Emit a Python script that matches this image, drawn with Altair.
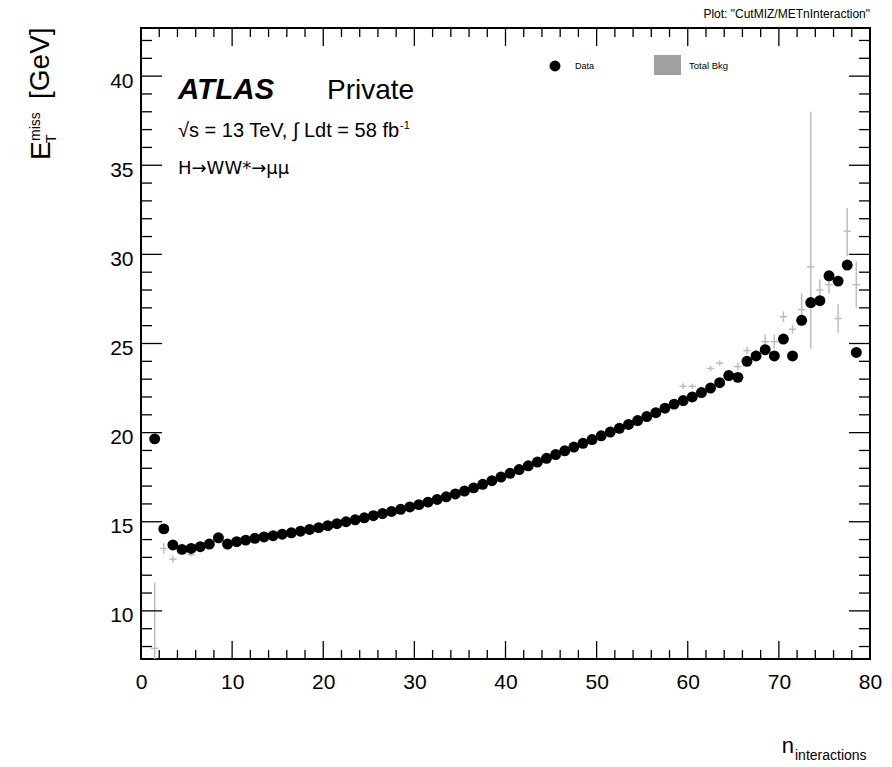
import altair as alt
import pandas as pd

# ---------------- data ----------------
n_interactions = [1.5, 2.5, 3.5, 4.5, 5.5, 6.5, 7.5, 8.5, 9.5, 10.5,
                  11.5, 12.5, 13.5, 14.5, 15.5, 16.5, 17.5, 18.5, 19.5, 20.5,
                  21.5, 22.5, 23.5, 24.5, 25.5, 26.5, 27.5, 28.5, 29.5, 30.5,
                  31.5, 32.5, 33.5, 34.5, 35.5, 36.5, 37.5, 38.5, 39.5, 40.5,
                  41.5, 42.5, 43.5, 44.5, 45.5, 46.5, 47.5, 48.5, 49.5, 50.5,
                  51.5, 52.5, 53.5, 54.5, 55.5, 56.5, 57.5, 58.5, 59.5, 60.5,
                  61.5, 62.5, 63.5, 64.5, 65.5, 66.5, 67.5, 68.5, 69.5, 70.5,
                  71.5, 72.5, 73.5, 74.5, 75.5, 76.5, 77.5, 78.5]

met_data = [19.65, 14.6, 13.7, 13.45, 13.5, 13.6, 13.75, 14.1, 13.75, 13.88,
            13.97, 14.07, 14.15, 14.22, 14.3, 14.38, 14.47, 14.57, 14.67, 14.78,
            14.89, 15.0, 15.11, 15.22, 15.34, 15.46, 15.58, 15.7, 15.83, 15.96,
            16.1, 16.25, 16.4, 16.56, 16.72, 16.9, 17.1, 17.3, 17.51, 17.72,
            17.93, 18.14, 18.35, 18.56, 18.77, 18.98, 19.19, 19.4, 19.61, 19.82,
            20.03, 20.24, 20.46, 20.68, 20.9, 21.12, 21.37, 21.6, 21.8, 22.0,
            22.25, 22.5, 22.8, 23.2, 23.1, 24.0, 24.3, 24.65, 24.3, 25.25,
            24.3, 26.3, 27.3, 27.4, 28.8, 28.5, 29.4, 24.5]

met_bkg = [7.9, 13.5, 12.9, 13.35, 13.15, 13.5, 13.7, 14.0, 13.85, 13.9,
           13.98, 14.08, 14.16, 14.23, 14.31, 14.39, 14.48, 14.58, 14.68, 14.79,
           14.9, 15.01, 15.12, 15.23, 15.35, 15.47, 15.59, 15.71, 15.84, 15.97,
           16.11, 16.26, 16.41, 16.57, 16.73, 16.91, 17.11, 17.31, 17.52, 17.73,
           17.94, 18.15, 18.36, 18.57, 18.78, 18.99, 19.2, 19.41, 19.62, 19.83,
           20.04, 20.25, 20.47, 20.69, 20.92, 21.15, 21.4, 21.65, 22.6, 22.6,
           22.3, 23.6, 23.9, 23.3, 23.7, 24.6, 24.4, 25.1, 25.1, 26.5,
           25.8, 26.9, 29.3, 28.0, 28.3, 26.4, 31.3, 28.3]

bkg_err_up = [3.7, 0.3, 0.2, 0.1, 0.1, 0.1, 0.1, 0.1, 0.1, 0.1,
              0.1, 0.1, 0.1, 0.1, 0.1, 0.1, 0.1, 0.1, 0.1, 0.1,
              0.1, 0.1, 0.1, 0.1, 0.1, 0.1, 0.1, 0.1, 0.1, 0.1,
              0.1, 0.1, 0.1, 0.1, 0.1, 0.1, 0.1, 0.1, 0.1, 0.1,
              0.1, 0.1, 0.1, 0.1, 0.1, 0.1, 0.1, 0.1, 0.1, 0.1,
              0.1, 0.1, 0.1, 0.1, 0.1, 0.1, 0.1, 0.1, 0.15, 0.15,
              0.15, 0.15, 0.15, 0.15, 0.2, 0.2, 0.25, 0.4, 0.4, 0.3,
              0.25, 0.9, 8.7, 0.6, 0.5, 0.8, 1.3, 1.3]

bkg_err_down = [4.2, 0.3, 0.2, 0.1, 0.1, 0.1, 0.1, 0.1, 0.1, 0.1,
                0.1, 0.1, 0.1, 0.1, 0.1, 0.1, 0.1, 0.1, 0.1, 0.1,
                0.1, 0.1, 0.1, 0.1, 0.1, 0.1, 0.1, 0.1, 0.1, 0.1,
                0.1, 0.1, 0.1, 0.1, 0.1, 0.1, 0.1, 0.1, 0.1, 0.1,
                0.1, 0.1, 0.1, 0.1, 0.1, 0.1, 0.1, 0.1, 0.1, 0.1,
                0.1, 0.1, 0.1, 0.1, 0.1, 0.1, 0.1, 0.1, 0.15, 0.15,
                0.15, 0.15, 0.15, 0.15, 0.2, 0.2, 0.25, 0.4, 0.4, 0.3,
                0.25, 0.4, 4.6, 0.6, 0.5, 0.8, 1.4, 1.3]

x_major_ticks = [0, 10, 20, 30, 40, 50, 60, 70, 80]
x_minor_ticks = [2, 4, 6, 8, 12, 14, 16, 18, 22, 24, 26, 28, 32, 34, 36, 38,
                 42, 44, 46, 48, 52, 54, 56, 58, 62, 64, 66, 68, 72, 74, 76, 78]
y_major_ticks = [10, 15, 20, 25, 30, 35, 40]
y_minor_ticks = [8, 9, 11, 12, 13, 14, 16, 17, 18, 19, 21, 22, 23, 24,
                 26, 27, 28, 29, 31, 32, 33, 34, 36, 37, 38, 39, 41, 42]

# ---------------- styling ----------------
W, H = 729, 631
FONT = "Liberation Sans"
GREY = "#bdbdbd"

xs = alt.Scale(domain=[0, 80], nice=False, zero=False)
ys = alt.Scale(domain=[7.3, 42.7], nice=False, zero=False)
xaxis = alt.Axis(values=x_major_ticks, title=None, ticks=False, domain=False, grid=False,
                 labelFont=FONT, labelFontSize=21, labelPadding=12, labelColor="black",
                 labelFlush=False, labelOverlap=False, labelBound=False, format="d")
yaxis = alt.Axis(values=y_major_ticks, title=None, ticks=False, domain=False, grid=False,
                 labelFont=FONT, labelFontSize=21, labelPadding=8, labelColor="black",
                 labelOffset=5, labelFlush=False, labelOverlap=False, labelBound=False,
                 format="d")


def X(field):
    return alt.X(field, type="quantitative", scale=xs, axis=xaxis)


def Y(field):
    return alt.Y(field, type="quantitative", scale=ys, axis=yaxis)


df = pd.DataFrame({"n": n_interactions, "met": met_data, "bkg": met_bkg,
                   "up": bkg_err_up, "dn": bkg_err_down})

bkg_v = alt.Chart(df).transform_calculate(
    lo="datum.bkg - datum.dn", hi="datum.bkg + datum.up"
).mark_rule(color=GREY, strokeWidth=1.5, clip=True).encode(
    x=X("n"), y=Y("lo"), y2="hi:Q")

bkg_h = alt.Chart(df).transform_calculate(
    xl="datum.n - 0.4", xr="datum.n + 0.4"
).mark_rule(color=GREY, strokeWidth=1.5, clip=True).encode(
    x=X("xl"), x2="xr:Q", y=Y("bkg"))

points = alt.Chart(df).mark_point(filled=True, shape="circle", size=120, color="black",
                                  opacity=1, clip=True).encode(x=X("n"), y=Y("met"))


def x_ticks(vals, length, top):
    d = pd.DataFrame({"v": vals})
    if top:
        enc = dict(y=alt.value(0), y2=alt.value(length))
    else:
        enc = dict(y=alt.value(H), y2=alt.value(H - length))
    return alt.Chart(d).mark_rule(color="black", strokeWidth=1.3).encode(x=X("v"), **enc)


def y_ticks(vals, length, right):
    d = pd.DataFrame({"v": vals})
    if right:
        enc = dict(x=alt.value(W), x2=alt.value(W - length))
    else:
        enc = dict(x=alt.value(0), x2=alt.value(length))
    return alt.Chart(d).mark_rule(color="black", strokeWidth=1.3).encode(y=Y("v"), **enc)


one = pd.DataFrame({"a": [0]})


def txt(s, x, y, size, align="left", baseline="alphabetic", font=FONT, **kw):
    return alt.Chart(one).mark_text(text=s, font=font, fontSize=size, align=align,
                                    baseline=baseline, color="black", **kw).encode(
        x=alt.value(x), y=alt.value(y))


annotations = [
    txt('Plot: "CutMIZ/METnInteraction"', 729, -10, 12, align="right"),
    txt("ATLAS", 37, 71, 29.5, fontWeight="bold", fontStyle="italic"),
    txt("Private", 186, 71, 28),
    txt("\u221As = 13 TeV, \u222B Ldt = 58 fb", 37, 109, 20),
    txt("-1", 259, 101, 11),
    txt("H\u2192WW*\u2192\u03bc\u03bc", 37, 146, 18, font="DejaVu Sans"),
    # legend
    txt("Data", 434, 38, 9, baseline="middle"),
    txt("Total Bkg", 548, 38, 9.5, baseline="middle"),
    # y title
    txt("E", -91, 132, 28, angle=270),
    txt("miss", -101, 113, 14, angle=270),
    txt("T", -85, 115, 14, angle=270),
    txt("[GeV]", -92, 71, 28, angle=270),
    # x title
    txt("n", 653, 725, 22, align="right"),
    txt("interactions", 654, 732, 14),
]

legend_dot = alt.Chart(one).mark_point(filled=True, shape="circle", size=120, color="black",
                                       opacity=1).encode(x=alt.value(414), y=alt.value(38))
legend_box = alt.Chart(one).mark_rect(color="#a0a0a0").encode(
    x=alt.value(513), x2=alt.value(540), y=alt.value(27), y2=alt.value(47))

chart = alt.layer(
    bkg_v, bkg_h, points,
    x_ticks(x_major_ticks, 18, False), x_ticks(x_minor_ticks, 9, False),
    x_ticks(x_major_ticks, 18, True), x_ticks(x_minor_ticks, 9, True),
    y_ticks(y_major_ticks, 21, False), y_ticks(y_minor_ticks, 11, False),
    y_ticks(y_major_ticks, 21, True), y_ticks(y_minor_ticks, 11, True),
    legend_dot, legend_box,
    *annotations,
).properties(
    width=W, height=H,
    padding={"left": 141, "top": 28, "right": 22, "bottom": 108},
    autosize=alt.AutoSizeParams(type="none"),
    background="white",
).configure_view(stroke="black", strokeWidth=2)

chart.save("out.html", embed_options={"renderer": "svg", "actions": False})
